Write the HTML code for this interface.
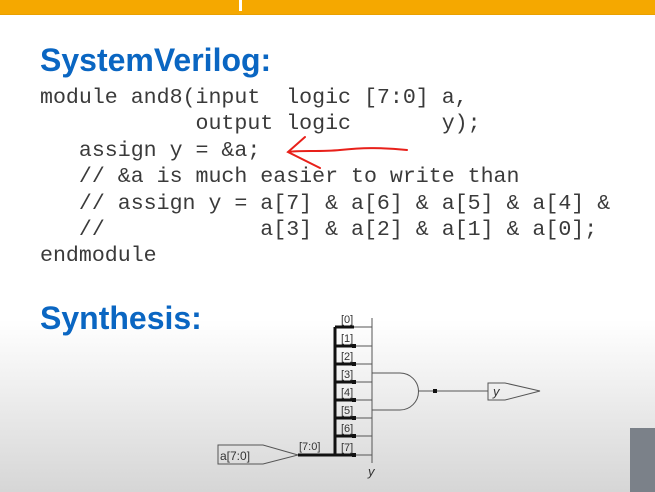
<!DOCTYPE html>
<html><head><meta charset="utf-8"><style>
html,body{margin:0;padding:0}
body{width:655px;height:492px;overflow:hidden;position:relative;background:linear-gradient(#fff 0,#fff 320px,#d6d6d6 492px);font-family:"Liberation Sans",sans-serif}
.bar{position:absolute;left:0;top:0;width:655px;height:14px;background:#f5a800;border-bottom:1px solid #e9a000}
h1{position:absolute;margin:0;left:40px;font-size:32px;font-weight:bold;color:#0a66c2;letter-spacing:0px}
pre{position:absolute;left:40px;top:85px;margin:0;font-family:"Liberation Mono",monospace;font-size:21.6px;line-height:26.4px;color:#3a3a3a}
</style></head><body>
<div class="bar"></div>
<div style="position:absolute;left:239px;top:0;width:3px;height:11px;background:#fff"></div>
<h1 style="top:42px">SystemVerilog:</h1>
<pre>module and8(input  logic [7:0] a,
            output logic       y);
   assign y = &amp;a;
   // &amp;a is much easier to write than
   // assign y = a[7] &amp; a[6] &amp; a[5] &amp; a[4] &amp;
   //            a[3] &amp; a[2] &amp; a[1] &amp; a[0];
endmodule</pre>
<h1 style="top:300px">Synthesis:</h1>
<svg width="655" height="492" style="position:absolute;left:0;top:0" font-family="Liberation Sans, sans-serif">
<path d="M407,150 C380,147 360,148 340,150 C320,152 300,150 288,152 M305,137 L288,152 L320,168" stroke="#e8201a" stroke-width="2" fill="none" stroke-linecap="round"/>
<g stroke="#555" fill="none" stroke-width="1">
<line x1="372" y1="318" x2="372" y2="463"/>
<line x1="335" y1="327" x2="372" y2="327"/><line x1="335" y1="346" x2="372" y2="346"/>
<line x1="335" y1="364" x2="372" y2="364"/><line x1="335" y1="382" x2="372" y2="382"/>
<line x1="335" y1="400" x2="372" y2="400"/><line x1="335" y1="418" x2="372" y2="418"/>
<line x1="335" y1="436" x2="372" y2="436"/><line x1="335" y1="455" x2="372" y2="455"/>
<path d="M372,373 H400 A18.5,18.5 0 0 1 400,410 H372"/>
<line x1="418" y1="391" x2="488" y2="391"/>
<path d="M488,383 H505 L540,391 L505,400 H488 Z"/>
<path d="M218,445 H263 L298,455 L263,464 H218 Z"/>
</g>
<g stroke="#111" stroke-width="3" fill="none">
<line x1="335" y1="327" x2="335" y2="456"/>
<line x1="298" y1="455" x2="354" y2="455"/>
<line x1="335" y1="327" x2="354" y2="327"/><line x1="335" y1="346" x2="354" y2="346"/>
<line x1="335" y1="364" x2="354" y2="364"/><line x1="335" y1="382" x2="354" y2="382"/>
<line x1="335" y1="400" x2="354" y2="400"/><line x1="335" y1="418" x2="354" y2="418"/>
<line x1="335" y1="436" x2="354" y2="436"/>
</g>
<g fill="#111">
<rect x="352" y="344" width="4" height="4"/><rect x="352" y="362" width="4" height="4"/>
<rect x="352" y="380" width="4" height="4"/><rect x="352" y="398" width="4" height="4"/>
<rect x="352" y="416" width="4" height="4"/><rect x="352" y="434" width="4" height="4"/>
<rect x="352" y="453" width="4" height="4"/><rect x="433" y="389" width="4" height="4"/>
</g>
<g font-size="11" fill="#333">
<text x="341" y="323">[0]</text><text x="341" y="342">[1]</text><text x="341" y="360">[2]</text>
<text x="341" y="378">[3]</text><text x="341" y="396">[4]</text><text x="341" y="414">[5]</text>
<text x="341" y="432">[6]</text><text x="341" y="451">[7]</text>
<text x="299" y="450">[7:0]</text>
<text x="220" y="460" font-size="12">a[7:0]</text>
<text x="493" y="396" font-size="13" font-style="italic">y</text>
<text x="368" y="476" font-size="13" font-style="italic">y</text>
</g>
</svg>
<div style="position:absolute;left:630px;top:428px;width:25px;height:64px;background:#7b8189"></div>
</body></html>
